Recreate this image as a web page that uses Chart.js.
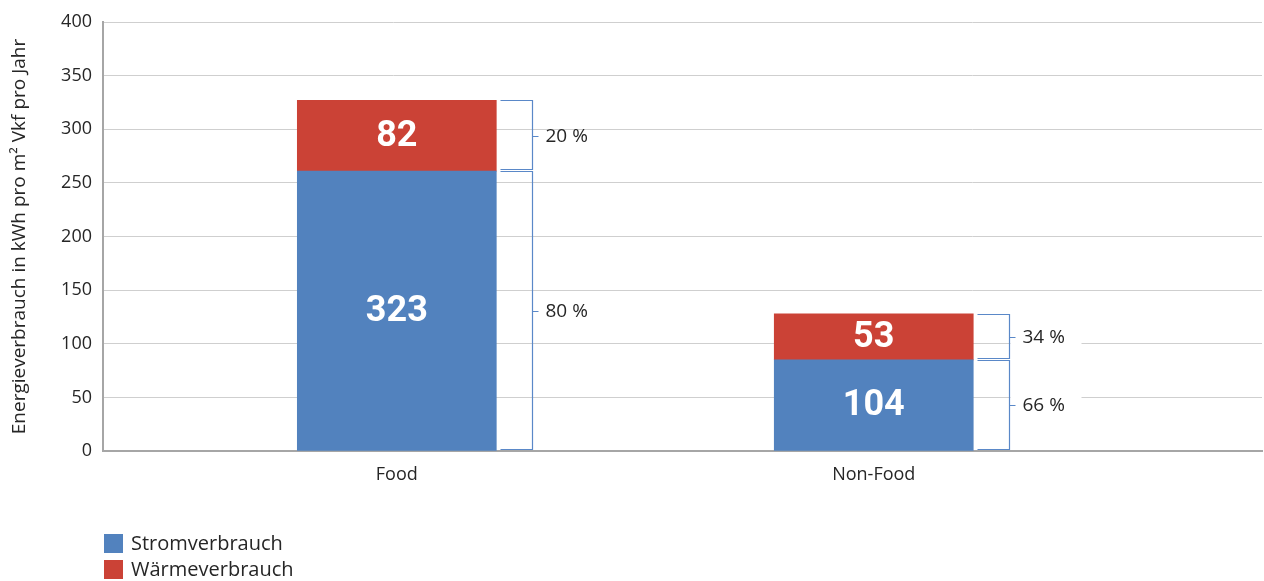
<!DOCTYPE html>
<html lang="de">
<head>
<meta charset="UTF-8">
<title>Energieverbrauch Food / Non-Food</title>
<script src="https://cdn.jsdelivr.net/npm/chart.js"></script>
<style>
  html, body { margin: 0; padding: 0; background: #fff; }
  canvas { display: block; }
</style>
</head>
<body>
<canvas id="chart" width="1264" height="581"></canvas>
<script>
// Werte (Balkenhoehen so wie im Bild gezeichnet, Beschriftungen wie angegeben)
const categories = ['Food', 'Non-Food'];
const stromBars = [261, 85];
const waermeBars = [66, 43];
const stromLabels = ['323', '104'];
const waermeLabels = ['82', '53'];
const stromShares = [80, 66];
const waermeShares = [20, 34];
const yTicks = [0, 50, 100, 150, 200, 250, 300, 350, 400];

const FONT = "'Open Sans', 'Noto Sans', sans-serif";
const TEXT = '#262626';

// Zahlen in den Balken, Klammern und Prozentwerte rechts daneben
const segmentPlugin = {
  id: 'segments',
  afterDatasetsDraw(chart, args, opts) {
    const ctx = chart.ctx;
    chart.data.datasets.forEach((ds, di) => {
      const meta = chart.getDatasetMeta(di);
      meta.data.forEach((bar, i) => {
        const top = Math.min(bar.y, bar.base);
        const bottom = Math.max(bar.y, bar.base);
        const right = bar.x + bar.width / 2;
        const mid = (top + bottom) / 2;
        ctx.save();
        ctx.fillStyle = '#fff';
        ctx.font = "bold 36px Roboto, sans-serif";
        ctx.textAlign = 'center';
        ctx.textBaseline = 'middle';
        ctx.fillText(ds.valueLabels[i], bar.x, mid + 1);

        const x0 = Math.round(right + 4) + 0.5;
        const x1 = Math.round(right + 36) + 0.5;
        const y0 = Math.round(top) + 0.5;
        const y1 = Math.round(bottom) - 1.5;
        const ym = Math.round(mid) + 0.5;

        if (opts.boxed[i]) {
          ctx.fillStyle = '#fff';
          ctx.fillRect(x1 + 1, ym - 13, 71, 26);
        }

        ctx.strokeStyle = '#5a88c8';
        ctx.lineWidth = 1.2;
        ctx.beginPath();
        ctx.moveTo(x0, y0);
        ctx.lineTo(x1, y0);
        ctx.lineTo(x1, y1);
        ctx.lineTo(x0, y1);
        ctx.moveTo(x1, ym);
        ctx.lineTo(x1 + 6, ym);
        ctx.stroke();

        ctx.fillStyle = TEXT;
        ctx.font = "19px " + FONT;
        ctx.textAlign = 'left';
        ctx.fillText(ds.shares[i] + ' %', x1 + 13, ym);
        ctx.restore();
      });
    });
  }
};

// Legende unten links, untereinander
const legendPlugin = {
  id: 'stackedLegend',
  afterDraw(chart, args, opts) {
    const ctx = chart.ctx;
    ctx.save();
    chart.data.datasets.forEach((ds, i) => {
      const y = opts.top + i * 26;
      ctx.fillStyle = ds.backgroundColor;
      ctx.fillRect(opts.left, y, 19, 19);
      ctx.fillStyle = TEXT;
      ctx.font = "20px " + FONT;
      ctx.textAlign = 'left';
      ctx.textBaseline = 'middle';
      ctx.fillText(ds.label, opts.left + 27, y + 10);
    });
    ctx.restore();
  }
};

const ctx = document.getElementById('chart').getContext('2d');
new Chart(ctx, {
  type: 'bar',
  data: {
    datasets: [
      {
        label: 'Stromverbrauch',
        data: stromBars.map((v, i) => ({ x: i + 1, y: v })),
        valueLabels: stromLabels,
        shares: stromShares,
        backgroundColor: '#5282be'
      },
      {
        label: 'Wärmeverbrauch',
        data: waermeBars.map((v, i) => ({ x: i + 1, y: v })),
        valueLabels: waermeLabels,
        shares: waermeShares,
        backgroundColor: '#cb4236'
      }
    ]
  },
  options: {
    responsive: false,
    animation: false,
    barThickness: 199,
    layout: { padding: { top: 22, right: 2, left: 0, bottom: 0 } },
    plugins: {
      legend: { display: false },
      tooltip: { enabled: false },
      segments: { boxed: [false, true] },
      stackedLegend: { left: 104, top: 534 }
    },
    scales: {
      x: {
        type: 'linear',
        stacked: true,
        offset: false,
        min: 0.384,
        max: 2.814,
        afterBuildTicks: (s) => { s.ticks = categories.map((c, i) => ({ value: i + 1 })); },
        afterFit: (s) => { s.height = 130; },
        grid: { display: false, drawTicks: false },
        border: { display: true, color: '#a6a6a6', width: 2 },
        ticks: {
          padding: 13,
          color: TEXT,
          font: { family: FONT, size: 18 },
          callback: (v) => categories[v - 1]
        }
      },
      y: {
        stacked: true,
        min: 0,
        max: 400,
        afterBuildTicks: (s) => { s.ticks = yTicks.map(v => ({ value: v })); },
        afterFit: (s) => { s.width = 103; },
        grid: { color: '#cfcfcf', lineWidth: 1, drawTicks: false },
        border: { display: true, color: '#a6a6a6', width: 2 },
        ticks: {
          padding: 11,
          color: TEXT,
          font: { family: FONT, size: 18 }
        },
        title: {
          display: true,
          text: 'Energieverbrauch in kWh pro m² Vkf pro Jahr',
          color: TEXT,
          font: { family: FONT, size: 19 },
          padding: { top: 8, bottom: 0 }
        }
      }
    }
  },
  plugins: [segmentPlugin, legendPlugin]
});
</script>
</body>
</html>
